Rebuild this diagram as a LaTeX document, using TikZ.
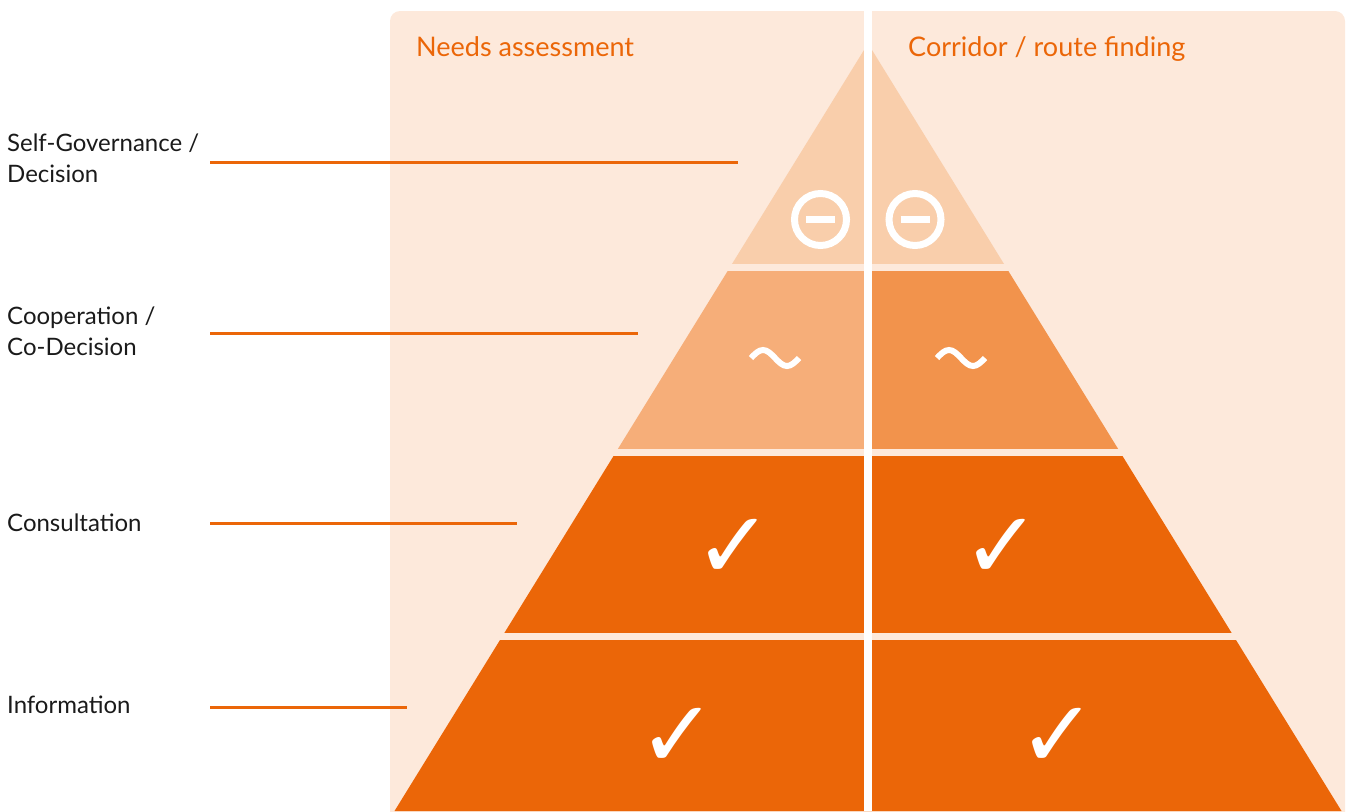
\documentclass[tikz,border=0pt]{standalone}
\usepackage{fontspec}
\setmainfont{Lato}
\newfontfamily\symfont{DejaVu Sans}

\definecolor{ifOrange}{HTML}{EB6608}
\definecolor{panelBg}{HTML}{FDE9DB}
\definecolor{tierTop}{HTML}{F9CEAB}
\definecolor{tierMidL}{HTML}{F6AE79}
\definecolor{tierMidR}{HTML}{F2934C}
\definecolor{labelInk}{HTML}{1A1A1A}

\begin{document}
\begin{tikzpicture}[x=1pt, y=-1pt,
    level/.style={font=\fontsize{24}{30.5}\selectfont, text=labelInk, anchor=base west, align=left, inner sep=0pt},
    head/.style={font=\fontsize{27}{30}\selectfont, text=ifOrange, anchor=base west, inner sep=0pt},
    leader/.style={draw=ifOrange, line width=3pt},
    ring/.style={circle, draw=white, line width=7pt, minimum size=52pt, inner sep=0pt},
    bar/.style={draw=white, line width=6.5pt},
    wave/.style={draw=white, line width=6pt},
    tick/.style={font=\symfont\fontsize{94}{94}\selectfont, text=white, inner sep=0pt}]

\useasboundingbox (0,0) rectangle (1348,811);

% Background panel behind the pyramid
\fill[panelBg, rounded corners=10pt] (390,11) rectangle (1345,840);

% Pyramid tiers (clipped to the two halves)
\begin{scope}
\clip (864,50) -- (394.5,811) -- (1341.5,811) -- (872,50) -- cycle;
\fill[tierTop]  (380,40)    rectangle (1350,264);
\fill[tierMidL] (380,271)   rectangle (868,448.5);
\fill[tierMidR] (868,271)   rectangle (1350,448.5);
\fill[ifOrange] (380,455.5) rectangle (1350,632.5);
\fill[ifOrange] (380,640)   rectangle (1350,820);
\end{scope}

% White divider between the two columns
\fill[white] (864,0) rectangle (872,811);

% Column headings
\node[head] (hdrNeeds) at (416,56) {Needs assessment};
\node[head] (hdrRoute) at (908,56) {Corridor / route finding};

% Participation levels on the left (base = last line)
\node[level] (lblSelf) at (7,182) {Self-Governance /\\Decision};
\node[level] (lblCoop) at (7,355) {Cooperation /\\Co-Decision};
\node[level] (lblCons) at (7,531) {Consultation};
\node[level] (lblInfo) at (7,713) {Information};

% Leader lines towards the tiers
\coordinate (selfA) at (210,162); \coordinate (selfB) at (738,162);
\coordinate (coopA) at (210,333); \coordinate (coopB) at (638,333);
\coordinate (consA) at (210,523); \coordinate (consB) at (517,523);
\coordinate (infoA) at (210,707); \coordinate (infoB) at (407,707);
\draw[leader] (selfA) -- (selfB);
\draw[leader] (coopA) -- (coopB);
\draw[leader] (consA) -- (consB);
\draw[leader] (infoA) -- (infoB);

% Top tier: not possible
\node[ring] (ringNeeds) at (820.5,219.5) {};
\node[ring] (ringRoute) at (915,219.5) {};
\draw[bar] ([xshift=-14.5pt]ringNeeds.center) -- ([xshift=14.5pt]ringNeeds.center);
\draw[bar] ([xshift=-14.5pt]ringRoute.center) -- ([xshift=14.5pt]ringRoute.center);

% Second tier: partly
\coordinate (waveNeeds) at (775,358);
\coordinate (waveRoute) at (961,358);
\draw[wave] ([xshift=-24pt]waveNeeds) sin ++(12,-8) cos ++(12,8) sin ++(12,8) cos ++(12,-8);
\draw[wave] ([xshift=-24pt]waveRoute) sin ++(12,-8) cos ++(12,8) sin ++(12,8) cos ++(12,-8);

% Lower tiers: yes
\node[tick] (tickConsNeeds) at (733.5,549) {✓};
\node[tick] (tickConsRoute) at (1001.5,549) {✓};
\node[tick] (tickInfoNeeds) at (678,738) {✓};
\node[tick] (tickInfoRoute) at (1058,738) {✓};

\end{tikzpicture}
\end{document}
